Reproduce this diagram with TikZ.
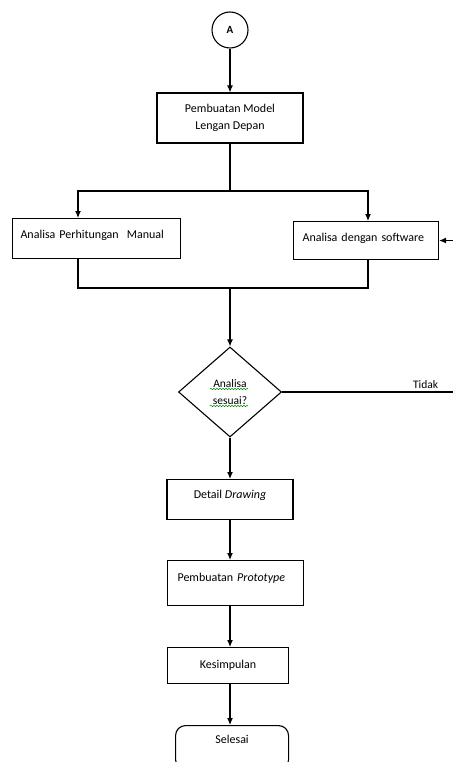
\documentclass[tikz,border=0pt]{standalone}
\usepackage{fontspec}
\setmainfont{Carlito}
\usetikzlibrary{arrows.meta,shapes.geometric,decorations.pathmorphing}

\begin{document}
\begin{tikzpicture}[x=1pt,y=-1pt,
  kotak/.style={draw,line width=1.1pt,inner sep=0pt,font=\fontsize{12}{17}\selectfont},
  garis/.style={line width=1.1pt},
  panah/.style={line width=1.1pt,-{Latex[length=7pt,width=6pt]}},
  ulir/.style={draw=green!55!black,line width=0.5pt,decorate,decoration={snake,amplitude=0.7pt,segment length=3pt}}]

\useasboundingbox (0,0) rectangle (453,762);
\clip (0,0) rectangle (453,762);

\coordinate (poros) at (230,0);
\coordinate (kiri) at (78,0);
\coordinate (kanan) at (368,0);
\coordinate (tepi) at (453,0);
\coordinate (pisah) at (230,191);
\coordinate (gabung) at (230,288);

\node[kotak,circle,minimum size=36pt,font=\fontsize{11}{13}\selectfont\bfseries] (A) at (230,30) {A};
\node[kotak,minimum width=146pt,minimum height=50pt,align=center] (model) at (230,118) {Pembuatan Model\\Lengan Depan};
\node[kotak,anchor=north west,text width=152pt,inner xsep=8pt,align=left,text height=20pt,text depth=20pt] (manual) at (12,218) {Analisa Perhitungan\ \ Manual};
\node[kotak,anchor=north west,text width=127pt,inner xsep=9pt,align=left,text height=20pt,text depth=18pt] (software) at (293,221) {Analisa dengan software};
\node[kotak,diamond,minimum width=103pt,minimum height=90pt,align=center,font=\fontsize{11.5}{17}\selectfont] (cek) at (230,392) {Analisa\\sesuai?};
\node[kotak,anchor=north,minimum width=126pt,text height=19pt,text depth=21pt] (detail) at (230,479) {Detail \textit{Drawing}};
\node[kotak,anchor=north west,text width=116pt,inner xsep=10pt,align=left,text height=21pt,text depth=24pt] (proto) at (167,560) {Pembuatan \textit{Prototype}};
\node[kotak,anchor=north west,minimum width=121pt,minimum height=36pt] (simpul) at (167,647) {Kesimpulan};
\node[kotak,rounded corners=10pt,anchor=north west,minimum width=113pt,text height=18pt,text depth=26pt] (selesai) at (175,725) {Selesai};

% alur utama
\draw[panah] (A.south) -- (model.north -| poros);
\draw[garis] (model.south -| poros) -- (pisah);
\draw[panah] (pisah) -| (manual.north -| kiri);
\draw[panah] (pisah) -| (software.north -| kanan);
\draw[panah] (software.east -| tepi) -- (software.east);
\draw[garis] (manual.south -| kiri) |- (gabung) -| (software.south -| kanan);
\draw[panah] (gabung) -- (cek.north);
\draw[garis] (cek.east) -- (cek.east -| tepi) node[pos=0.84,above,font=\fontsize{11.5}{13}\selectfont] {Tidak};
\draw[panah] (cek.south) -- (detail.north);
\draw[panah] (detail.south -| poros) -- (proto.north -| poros);
\draw[panah] (proto.south -| poros) -- (simpul.north -| poros);
\draw[panah] (simpul.south -| poros) -- (selesai.north -| poros);

% garis ejaan
\draw[ulir] (210,389) -- (248,389);
\draw[ulir] (210,406) -- (248,406);
\end{tikzpicture}
\end{document}
